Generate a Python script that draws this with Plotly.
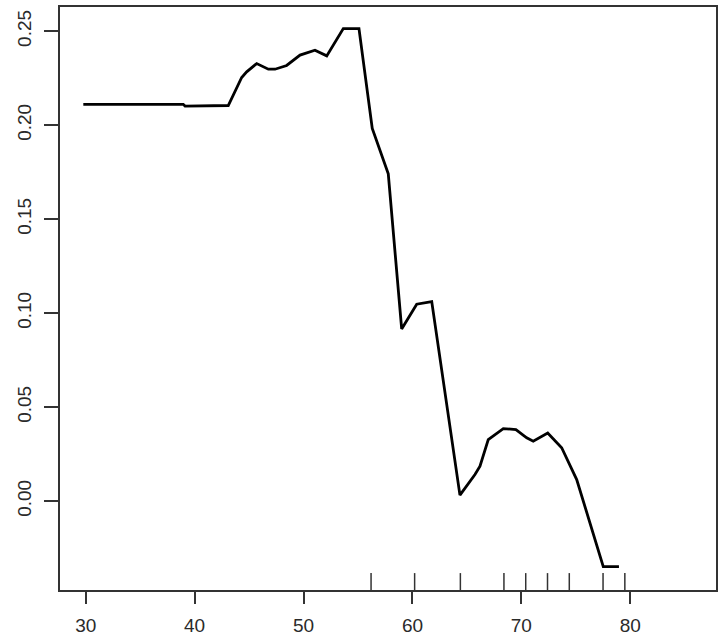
import plotly.graph_objects as go

# Partial dependence curve
x_vals = [29.78, 38.96, 39.12, 43.09, 44.32, 44.78, 45.70, 46.77, 47.38, 48.45,
          49.68, 51.05, 52.13, 53.65, 55.09, 56.31, 57.78, 59.01, 60.39, 61.77,
          64.36, 65.74, 66.20, 66.96, 68.34, 69.50, 70.49, 71.09, 72.42, 73.70,
          75.08, 77.52, 78.96]
y_vals = [0.2111, 0.2111, 0.2102, 0.2105, 0.2254, 0.2284, 0.2328, 0.2298, 0.2298, 0.2318,
          0.2373, 0.2399, 0.2369, 0.2514, 0.2514, 0.1983, 0.1741, 0.0916, 0.1048, 0.1062,
          0.0032, 0.0142, 0.0186, 0.0328, 0.0386, 0.0381, 0.0337, 0.0319, 0.0363, 0.0284,
          0.0115, -0.0348, -0.0348]

# Rug (deciles)
rug_vals = [56.2, 60.2, 64.4, 68.4, 70.4, 72.4, 74.4, 77.5, 79.5]

x_ticks = [30, 40, 50, 60, 70, 80]
y_ticks = [0.00, 0.05, 0.10, 0.15, 0.20, 0.25]

fig = go.Figure()
fig.add_trace(go.Scatter(x=x_vals, y=y_vals, mode="lines",
                         line=dict(color="black", width=2.8), showlegend=False,
                         hoverinfo="skip"))

for v in rug_vals:
    fig.add_shape(type="line", xref="x", yref="y domain", x0=v, x1=v, y0=0, y1=0.029,
                  line=dict(color="#333333", width=1.5))

axis_common = dict(showgrid=False, zeroline=False, showline=True, mirror=True,
                   linecolor="#333333", linewidth=1.5, ticks="outside",
                   tickcolor="#333333", tickwidth=1.5, automargin=False,
                   tickfont=dict(family="Liberation Sans, Arial, sans-serif", size=19, color="#2a2a2a"))

fig.update_xaxes(range=[27.64, 87.87], tickvals=x_ticks, ticklen=12,
                 ticklabelstandoff=5, **axis_common)
fig.update_yaxes(range=[-0.04727, 0.2629], tickvals=y_ticks, tickformat=".2f",
                 ticklen=14, tickangle=-90, ticklabelstandoff=6, **axis_common)

fig.update_layout(width=724, height=640, margin=dict(l=60, r=8, t=7, b=50),
                  plot_bgcolor="white", paper_bgcolor="white")

fig.write_html("out.html", config={"displayModeBar": False},
               post_script="document.body.style.margin='0px';document.body.style.overflow='hidden';")
